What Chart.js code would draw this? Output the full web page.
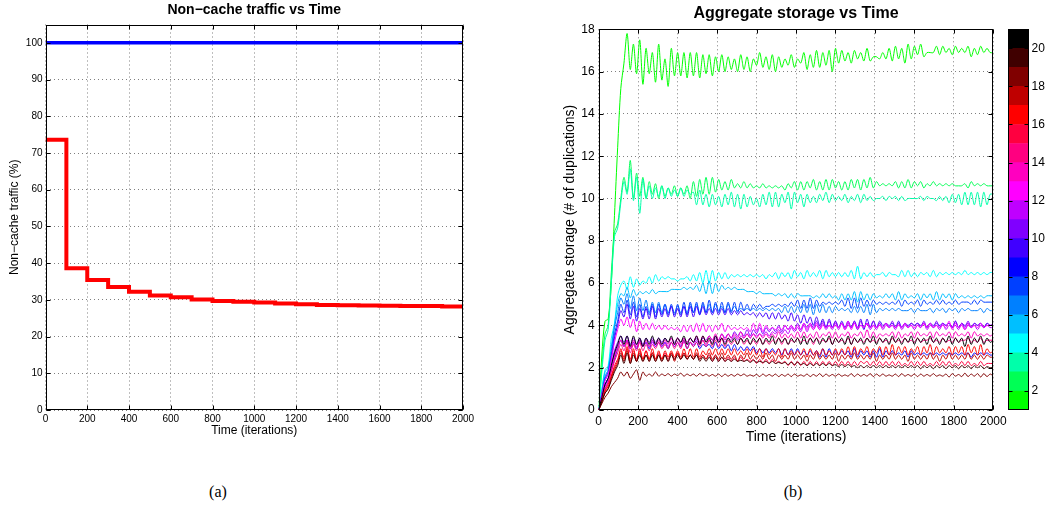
<!DOCTYPE html>
<html>
<head>
<meta charset="utf-8">
<title>Non-cache traffic and aggregate storage vs time</title>
<script src="https://cdn.jsdelivr.net/npm/chart.js@4.4.1/dist/chart.umd.min.js"></script>
<style>
  html, body { margin: 0; padding: 0; background: #fff; }
  body { width: 1046px; height: 509px; position: relative; overflow: hidden; }
  canvas { position: absolute; top: 0; display: block; }
  #trafficChart { left: 0; }
  #storageChart { left: 540px; }
  #colorbar { left: 1000px; }
  .caption { position: absolute; top: 482px; width: 100px; text-align: center;
             font: 16px 'Liberation Serif', 'Times New Roman', serif; line-height: 20px; }
</style>
</head>
<body>
<canvas id="trafficChart" width="480" height="450"></canvas>
<canvas id="storageChart" width="506" height="450"></canvas>
<canvas id="colorbar" width="46" height="450"></canvas>
<div class="caption" style="left:168px">(a)</div>
<div class="caption" style="left:743px">(b)</div>

<script>
// ---- (a) non-cache traffic ----
const stepTimes = [0, 100, 200, 300, 400, 500, 600, 700, 800, 900, 1000,
                   1100, 1200, 1300, 1400, 1500, 1600, 1700, 1800, 1900, 2000];
const cachedTraffic = [73.6, 38.6, 35.4, 33.5, 32.2, 31.2, 30.7, 30.1, 29.7, 29.5, 29.3,
                       29.0, 28.8, 28.6, 28.5, 28.45, 28.4, 28.35, 28.3, 28.2, 28.2];
const noCacheTraffic = [100, 100];
const noCacheTimes = [0, 2000];
const trafficTicks = [0, 10, 20, 30, 40, 50, 60, 70, 80, 90, 100];
const timeTicks = [0, 200, 400, 600, 800, 1000, 1200, 1400, 1600, 1800, 2000];

// ---- (b) aggregate storage, one series per color bin ----
const times = [0,16,32,48,64,80,96,112,128,144,160,176,192,208,224,240,256,272,288,304,320,336,352,368,384,
  400,416,432,448,464,480,496,512,528,544,560,576,592,608,624,640,656,672,688,704,720,736,752,768,784,
  800,816,832,848,864,880,896,912,928,944,960,976,992,1008,1024,1040,1056,1072,1088,1104,1120,1136,1152,1168,1184,
  1200,1216,1232,1248,1264,1280,1296,1312,1328,1344,1360,1376,1392,1408,1424,1440,1456,1472,1488,1504,1520,1536,1552,1568,1584,
  1600,1616,1632,1648,1664,1680,1696,1712,1728,1744,1760,1776,1792,1808,1824,1840,1856,1872,1888,1904,1920,1936,1952,1968,1984,2000];

const storage01 = [0,2.6,4.2,4.3,6.0,9.2,12.4,15.2,16.4,
  17.8,16.1,17.3,15.9,17.5,15.4,17.1,15.9,16.9,15.5,17.3,15.6,
  16.6,15.3,17.1,15.8,16.9,15.8,16.9,15.7,16.9,15.8,
  16.9,15.7,16.8,15.9,16.8,15.8,16.7,16.0,16.8,16.0,
  16.7,16.1,16.6,16.0,16.8,16.1,16.7,16.0,16.6,16.3,
  16.9,16.2,16.7,16.1,16.8,16.0,16.7,16.2,16.6,16.3,
  16.8,16.2,16.6,16.4,16.9,16.1,16.8,16.2,17.0,16.2,
  16.9,16.3,17.0,16.0,17.1,16.4,17.0,16.5,16.9,16.4,
  17.0,16.6,16.9,16.5,17.1,16.5,16.7,16.7,16.6,16.9,
  16.6,17.1,16.5,17.2,16.6,17.1,16.4,17.3,16.6,17.2,
  16.8,17.3,16.7,16.9,16.9,16.9,17.2,16.8,17.2,16.9,
  17.1,16.8,17.2,16.9,17.1,16.9,17.2,16.7,17.1,16.8,
  17.2,16.9,17.1,16.9,16.9];
const storage02 = [0,2.0,3.6,4.0,6.5,8.4,8.8,10.0,11.0,
  10.3,11.8,10.0,11.2,10.1,11.0,10.0,10.8,10.2,10.7,10.0,10.6,
  10.1,10.5,10.2,10.6,10.1,10.5,10.2,10.6,10.0,10.8,
  10.1,10.9,10.2,11.0,10.2,11.0,10.3,10.9,10.4,10.8,
  10.4,10.9,10.5,10.7,10.5,10.8,10.5,10.7,10.5,10.6,
  10.5,10.7,10.5,10.6,10.5,10.6,10.5,10.6,10.4,10.7,
  10.5,10.8,10.4,10.8,10.4,10.8,10.5,10.9,10.4,10.8,
  10.4,10.9,10.4,10.9,10.5,10.8,10.4,10.8,10.4,10.9,
  10.5,10.9,10.4,10.9,10.5,11.0,10.5,10.8,10.6,10.7,
  10.6,10.7,10.6,10.8,10.5,10.8,10.5,10.9,10.5,10.8,
  10.6,10.8,10.5,10.7,10.6,10.8,10.6,10.7,10.6,10.7,
  10.6,10.7,10.6,10.6,10.6,10.7,10.5,10.8,10.6,10.7,
  10.6,10.7,10.6,10.6,10.6];
const storage03 = [0,1.8,3.3,3.8,6.0,8.2,8.6,9.8,10.8,
  10.2,11.4,9.9,11.0,9.3,10.9,10.0,10.6,10.0,10.5,10.1,10.6,
  10.0,10.5,10.1,10.4,10.1,10.5,10.1,10.4,10.2,10.3,
  9.7,10.4,9.7,10.2,9.6,10.2,9.7,10.1,9.6,10.2,
  9.7,10.3,9.6,10.2,9.5,10.2,9.6,10.1,9.7,10.0,
  9.6,10.2,9.7,10.3,9.6,10.3,9.6,10.2,9.8,10.3,
  9.5,10.3,9.8,10.2,9.6,10.2,9.8,10.1,9.8,10.2,
  9.9,10.3,9.8,10.2,9.9,10.1,9.9,10.2,9.8,10.1,
  9.9,10.2,9.8,10.2,9.9,10.1,9.9,10.0,10.0,10.1,
  9.9,10.1,10.0,10.1,9.9,10.1,9.9,10.0,10.0,10.0,
  10.0,10.1,9.9,10.1,10.0,10.0,9.9,10.1,9.9,10.1,
  9.8,10.2,9.8,10.2,9.7,10.3,9.7,10.3,9.7,10.3,
  9.6,10.3,9.7,10.2,10.2];
const storage04 = [0,1.0,1.9,2.1,3.4,4.1,5.4,5.9,6.1,
  5.7,6.3,5.8,6.2,5.9,6.1,6.0,6.3,6.0,6.4,6.1,6.3,
  6.2,6.3,6.2,6.2,6.1,6.2,6.2,6.3,6.1,6.4,
  6.1,6.5,6.0,6.6,6.0,6.6,6.1,6.5,6.2,6.5,
  6.2,6.4,6.3,6.4,6.3,6.4,6.3,6.4,6.3,6.4,
  6.3,6.4,6.2,6.4,6.3,6.5,6.2,6.5,6.3,6.5,
  6.2,6.6,6.3,6.5,6.2,6.6,6.3,6.5,6.3,6.6,
  6.2,6.6,6.3,6.5,6.3,6.5,6.3,6.5,6.3,6.6,
  6.2,6.8,6.2,6.5,6.3,6.5,6.3,6.4,6.4,6.5,
  6.3,6.5,6.4,6.4,6.3,6.6,6.3,6.6,6.3,6.5,
  6.3,6.5,6.4,6.5,6.3,6.6,6.3,6.5,6.4,6.5,
  6.4,6.5,6.4,6.5,6.4,6.6,6.4,6.5,6.4,6.5,
  6.4,6.5,6.4,6.5,6.5];
const storage05 = [0,0.9,1.8,2.0,3.0,4.0,5.0,5.5,5.4,
  5.8,5.3,5.7,5.4,5.6,5.5,5.6,5.5,5.7,5.5,5.6,5.6,
  5.6,5.6,5.7,5.7,5.7,5.7,5.8,5.7,5.8,5.7,
  5.9,5.6,6.0,5.5,6.1,5.5,6.0,5.6,5.9,5.7,
  5.8,5.7,5.8,5.7,5.7,5.7,5.6,5.6,5.6,5.5,
  5.6,5.5,5.5,5.5,5.5,5.4,5.5,5.4,5.5,5.3,
  5.5,5.3,5.5,5.4,5.4,5.4,5.4,5.3,5.4,5.3,
  5.5,5.3,5.5,5.3,5.4,5.2,5.5,5.2,5.5,5.2,
  5.6,5.1,5.6,5.2,5.5,5.2,5.5,5.3,5.4,5.3,
  5.5,5.3,5.5,5.2,5.6,5.2,5.5,5.3,5.4,5.3,
  5.5,5.2,5.5,5.3,5.5,5.2,5.6,5.2,5.5,5.3,
  5.5,5.2,5.5,5.3,5.4,5.3,5.4,5.3,5.4,5.3,
  5.4,5.3,5.4,5.4,5.4];
const storage06 = [0,0.8,1.6,1.9,2.8,3.9,4.6,5.3,5.0,
  5.5,4.8,5.4,4.7,5.3,4.7,5.2,4.6,5.1,4.6,5.1,4.6,
  5.0,4.6,4.9,4.6,4.9,4.6,4.9,4.6,5.0,4.6,
  5.0,4.6,5.0,4.6,5.0,4.6,5.0,4.7,4.9,4.6,
  5.0,4.7,4.9,4.7,4.8,4.7,4.8,4.7,4.8,4.7,
  4.8,4.7,4.8,4.7,4.8,4.7,4.8,4.6,4.9,4.6,
  4.9,4.6,4.9,4.6,5.0,4.6,5.0,4.5,5.0,4.6,
  5.0,4.6,4.9,4.6,4.9,4.7,4.8,4.7,4.8,4.6,
  4.9,4.6,4.9,4.6,5.0,4.5,5.0,4.6,4.8,4.7,
  4.8,4.7,4.8,4.7,4.8,4.7,4.7,4.7,4.8,4.6,
  4.8,4.7,4.7,4.7,4.8,4.6,4.8,4.7,4.8,4.6,
  4.8,4.7,4.8,4.6,4.8,4.7,4.8,4.7,4.7,4.7,
  4.8,4.6,4.8,4.7,4.7];
const storage07 = [0,0.7,1.5,1.8,2.6,3.6,4.2,5.0,4.6,
  5.2,4.5,5.1,4.4,5.0,4.4,4.9,4.5,5.0,4.4,5.0,4.5,
  5.0,4.5,5.0,4.5,5.0,4.5,5.1,4.5,5.1,4.6,
  5.1,4.5,5.1,4.6,5.2,4.6,5.1,4.6,5.1,4.6,
  5.1,4.6,5.1,4.6,5.1,4.7,5.0,4.7,5.0,4.8,
  5.0,4.8,4.9,4.9,5.0,4.9,5.0,4.9,5.0,4.9,
  5.1,4.9,5.2,4.8,5.2,4.8,5.3,4.8,5.2,4.9,
  5.1,5.0,5.1,5.0,5.1,5.0,5.2,4.9,5.3,4.8,
  5.3,4.8,5.3,4.9,5.2,4.9,5.2,5.0,5.1,5.0,
  5.1,5.0,5.1,5.0,5.2,4.9,5.2,5.0,5.1,5.0,
  5.2,4.9,5.2,5.0,5.1,5.0,5.2,5.0,5.2,5.0,
  5.1,5.0,5.2,5.0,5.1,5.1,5.1,5.0,5.2,5.0,
  5.2,5.1,5.1,5.1,5.1];
const storage08 = [0,0.6,1.2,1.5,1.9,2.4,2.9,3.3,3.0,
  3.3,2.9,3.2,2.9,3.3,3.0,3.2,2.9,3.3,3.0,3.2,3.0,
  3.2,2.9,3.2,3.0,3.2,3.0,3.3,2.9,3.2,3.0,
  3.2,2.9,3.1,3.0,3.1,2.9,3.2,2.9,3.1,2.9,
  3.1,2.8,3.1,2.8,3.0,2.8,3.0,2.8,3.0,2.7,
  2.9,2.7,2.9,2.7,2.9,2.7,2.9,2.6,2.9,2.6,
  2.9,2.6,2.9,2.6,2.8,2.6,2.8,2.6,2.8,2.5,
  2.9,2.5,2.9,2.6,2.8,2.6,2.8,2.6,2.8,2.5,
  2.9,2.5,2.8,2.6,2.8,2.5,2.8,2.5,2.9,2.5,
  2.8,2.6,2.8,2.6,2.7,2.6,2.8,2.5,2.8,2.6,
  2.7,2.6,2.7,2.6,2.7,2.6,2.7,2.6,2.7,2.6,
  2.7,2.6,2.7,2.6,2.7,2.6,2.7,2.5,2.7,2.6,
  2.7,2.6,2.7,2.6,2.6];
const storage09 = [0,0.7,1.4,1.7,2.4,3.4,4.0,4.7,4.4,
  5.0,4.3,4.9,4.2,4.8,4.3,4.8,4.3,4.9,4.3,4.8,4.4,
  4.8,4.4,4.9,4.4,4.8,4.4,4.9,4.4,4.9,4.4,
  4.9,4.5,4.9,4.5,4.8,4.5,4.8,4.5,4.8,4.5,
  4.8,4.5,4.7,4.5,4.7,4.5,4.6,4.5,4.6,4.4,
  4.6,4.4,4.6,4.3,4.6,4.3,4.6,4.3,4.5,4.2,
  4.6,4.2,4.5,4.1,4.5,4.1,4.4,4.0,4.4,4.0,
  4.3,3.9,4.3,3.9,4.2,3.9,4.2,3.9,4.2,3.9,
  4.2,3.9,4.3,3.8,4.3,3.9,4.2,3.9,4.2,4.0,
  4.1,4.0,4.1,3.9,4.2,3.9,4.1,4.0,4.1,4.0,
  4.1,4.0,4.1,3.9,4.1,4.0,4.1,4.0,4.1,4.0,
  4.1,3.9,4.2,3.9,4.1,4.0,4.1,3.9,4.1,4.0,
  4.1,3.9,4.1,4.0,4.0];
const storage10 = [0,0.6,1.2,1.5,2.1,2.8,3.2,3.5,3.2,
  3.5,3.1,3.4,3.1,3.4,3.1,3.4,3.2,3.4,3.2,3.4,3.2,
  3.4,3.2,3.4,3.2,3.4,3.2,3.4,3.2,3.4,3.2,
  3.4,3.2,3.4,3.3,3.5,3.3,3.5,3.3,3.6,3.4,
  3.6,3.4,3.7,3.5,3.7,3.5,3.8,3.5,3.8,3.6,
  3.9,3.6,3.9,3.7,3.9,3.7,4.0,3.7,4.0,3.8,
  4.0,3.8,4.1,3.8,4.1,3.9,4.1,3.9,4.2,3.9,
  4.2,3.9,4.2,3.9,4.2,3.9,4.1,3.9,4.1,3.9,
  4.2,3.8,4.2,3.9,4.1,3.9,4.2,3.9,4.1,3.9,
  4.1,3.9,4.2,3.9,4.1,3.9,4.1,3.9,4.1,4.0,
  4.1,3.9,4.2,3.9,4.1,3.9,4.2,3.9,4.1,4.0,
  4.1,3.9,4.2,3.9,4.1,3.9,4.2,3.9,4.1,4.0,
  4.1,3.9,4.1,4.0,4.1];
const storage11 = [0,0.5,1.1,1.4,2.0,2.6,3.0,3.3,3.0,
  3.3,2.9,3.2,2.9,3.2,3.0,3.2,3.0,3.2,3.0,3.2,3.0,
  3.2,3.0,3.2,3.0,3.2,3.0,3.2,3.1,3.2,3.1,
  3.3,3.1,3.3,3.1,3.3,3.2,3.4,3.2,3.4,3.2,
  3.4,3.3,3.5,3.3,3.5,3.4,3.6,3.4,3.6,3.5,
  3.6,3.5,3.7,3.5,3.7,3.6,3.8,3.6,3.8,3.6,
  3.9,3.7,3.9,3.7,4.0,3.7,4.0,3.8,4.0,3.8,
  4.1,3.8,4.0,3.8,4.1,3.8,4.1,3.8,4.0,3.9,
  4.1,3.8,4.0,3.9,4.1,3.8,4.0,3.8,4.1,3.8,
  4.0,3.9,4.0,3.8,4.1,3.8,4.0,3.9,4.0,3.8,
  4.0,3.9,4.1,3.8,4.0,3.9,4.0,3.8,4.1,3.8,
  4.0,3.9,4.0,3.8,4.1,3.8,4.0,3.9,4.0,3.8,
  4.0,3.9,4.0,3.9,3.9];
const storage12 = [0,0.7,1.4,1.7,2.4,3.2,3.8,4.3,4.0,
  4.4,3.9,4.3,3.7,4.2,3.8,4.1,3.8,4.1,3.8,4.0,3.8,
  4.0,3.8,3.9,3.8,3.9,3.7,4.0,3.7,4.0,3.7,
  4.1,3.7,4.1,3.7,4.0,3.7,4.0,3.8,4.1,3.7,
  4.0,3.8,3.9,3.8,3.9,3.8,3.9,3.7,4.1,3.7,
  4.1,3.7,4.0,3.8,3.9,3.8,3.9,3.8,4.0,3.8,
  4.0,3.8,4.0,3.8,4.1,3.8,4.1,3.8,4.1,3.8,
  4.0,3.9,4.0,3.9,4.0,3.9,4.1,3.8,4.2,3.8,
  4.1,3.9,4.0,3.9,4.1,3.9,4.0,3.9,4.0,3.9,
  4.1,3.9,4.0,3.9,4.0,3.9,4.1,3.9,4.0,3.9,
  4.0,3.9,4.1,3.9,4.1,3.9,4.0,3.9,4.0,3.9,
  4.2,3.8,4.1,3.9,4.0,3.8,4.1,3.9,4.0,3.9,
  4.1,3.9,4.0,4.0,4.0];
const storage13 = [0,0.5,1.0,1.3,1.9,2.5,2.9,3.3,3.0,
  3.3,2.9,3.3,3.0,3.3,3.0,3.3,3.0,3.3,3.1,3.3,3.1,
  3.3,3.1,3.4,3.1,3.4,3.1,3.4,3.2,3.4,3.2,
  3.5,3.2,3.5,3.2,3.5,3.3,3.6,3.3,3.6,3.3,
  3.6,3.4,3.6,3.4,3.7,3.4,3.6,3.4,3.6,3.4,
  3.6,3.4,3.6,3.4,3.6,3.4,3.7,3.4,3.6,3.4,
  3.6,3.4,3.7,3.4,3.7,3.4,3.6,3.4,3.7,3.4,
  3.6,3.5,3.7,3.4,3.7,3.4,3.6,3.5,3.7,3.4,
  3.6,3.5,3.7,3.4,3.8,3.4,3.7,3.4,3.6,3.5,
  3.6,3.5,3.7,3.4,3.7,3.4,3.6,3.5,3.7,3.4,
  3.7,3.5,3.6,3.5,3.7,3.4,3.7,3.5,3.6,3.5,
  3.7,3.4,3.7,3.5,3.6,3.5,3.7,3.4,3.7,3.5,
  3.6,3.5,3.6,3.5,3.6];
const storage14 = [0,0.5,1.0,1.3,1.8,2.3,2.7,3.1,2.8,
  3.2,2.7,3.1,2.8,3.2,2.8,3.1,2.8,3.1,2.9,3.2,2.9,
  3.1,2.9,3.2,2.9,3.2,2.9,3.3,2.9,3.2,3.0,
  3.2,3.0,3.3,3.0,3.3,3.0,3.3,3.0,3.4,3.0,
  3.3,3.1,3.3,3.1,3.4,3.1,3.3,3.1,3.3,3.1,
  3.4,3.1,3.3,3.1,3.3,3.2,3.4,3.1,3.4,3.1,
  3.3,3.2,3.4,3.2,3.3,3.2,3.4,3.1,3.4,3.2,
  3.3,3.2,3.4,3.1,3.4,3.2,3.3,3.2,3.4,3.1,
  3.4,3.2,3.3,3.2,3.4,3.2,3.3,3.2,3.4,3.2,
  3.3,3.2,3.4,3.2,3.3,3.2,3.4,3.2,3.3,3.2,
  3.4,3.2,3.3,3.3,3.4,3.2,3.3,3.2,3.4,3.2,
  3.3,3.2,3.4,3.2,3.3,3.3,3.4,3.2,3.3,3.2,
  3.4,3.2,3.3,3.3,3.3];
const storage15 = [0,0.4,0.9,1.2,1.6,2.1,2.4,2.8,2.5,
  2.9,2.4,2.8,2.4,2.8,2.4,2.8,2.4,2.7,2.4,2.7,2.4,
  2.7,2.4,2.7,2.4,2.7,2.4,2.7,2.4,2.6,2.4,
  2.6,2.4,2.6,2.4,2.6,2.3,2.6,2.3,2.5,2.3,
  2.5,2.3,2.5,2.3,2.5,2.3,2.4,2.3,2.4,2.2,
  2.4,2.2,2.4,2.2,2.4,2.2,2.3,2.2,2.3,2.1,
  2.3,2.1,2.3,2.1,2.3,2.1,2.3,2.1,2.3,2.1,
  2.3,2.1,2.3,2.1,2.3,2.1,2.3,2.1,2.3,2.1,
  2.3,2.1,2.3,2.2,2.3,2.1,2.3,2.1,2.3,2.1,
  2.3,2.1,2.3,2.1,2.3,2.1,2.2,2.1,2.3,2.1,
  2.3,2.1,2.3,2.1,2.2,2.1,2.3,2.1,2.3,2.1,
  2.3,2.1,2.2,2.1,2.3,2.1,2.3,2.1,2.2,2.1,
  2.3,2.1,2.2,2.2,2.2];
const storage16 = [0,0.4,0.9,1.1,1.6,2.0,2.3,2.9,2.4,
  3.0,2.3,2.9,2.3,2.9,2.4,2.8,2.4,2.9,2.4,2.8,2.4,
  2.8,2.5,2.8,2.5,2.8,2.5,2.9,2.5,2.9,2.5,
  2.9,2.5,2.8,2.6,2.9,2.6,2.9,2.6,2.9,2.6,
  2.9,2.6,2.9,2.6,2.8,2.6,2.9,2.6,2.9,2.6,
  2.9,2.5,2.9,2.6,2.8,2.6,2.9,2.5,2.9,2.6,
  2.8,2.6,2.8,2.6,2.9,2.5,2.9,2.6,2.8,2.6,
  2.9,2.6,2.8,2.6,2.9,2.6,2.9,2.6,3.0,2.6,
  3.0,2.6,2.9,2.7,3.0,2.6,2.9,2.7,3.0,2.6,
  3.0,2.6,3.1,2.6,3.0,2.7,3.0,2.6,2.9,2.7,
  3.0,2.6,3.0,2.7,3.1,2.6,3.0,2.7,2.9,2.7,
  3.0,2.6,3.0,2.7,3.0,2.6,3.1,2.7,3.0,2.6,
  3.1,2.6,2.9,2.7,2.8];
const storage17 = [0,0.4,0.8,1.0,1.5,1.9,2.2,2.7,2.3,
  2.8,2.2,2.7,2.3,2.7,2.3,2.6,2.3,2.7,2.3,2.6,2.3,
  2.6,2.3,2.7,2.3,2.7,2.4,2.7,2.4,2.6,2.4,
  2.7,2.4,2.6,2.4,2.7,2.4,2.6,2.4,2.7,2.4,
  2.6,2.4,2.6,2.3,2.6,2.4,2.7,2.4,2.6,2.4,
  2.6,2.4,2.7,2.4,2.6,2.3,2.6,2.4,2.6,2.4,
  2.7,2.4,2.6,2.4,2.6,2.3,2.6,2.4,2.7,2.4,
  2.6,2.4,2.6,2.4,2.7,2.3,2.6,2.4,2.6,2.4,
  2.7,2.4,2.6,2.4,2.6,2.4,2.7,2.3,2.6,2.4,
  2.6,2.4,2.7,2.4,2.6,2.4,2.6,2.3,2.7,2.4,
  2.6,2.4,2.6,2.4,2.7,2.4,2.6,2.3,2.6,2.4,
  2.7,2.4,2.6,2.4,2.6,2.4,2.7,2.4,2.6,2.4,
  2.6,2.4,2.6,2.5,2.5];
const storage18 = [0,0.3,0.6,0.8,1.1,1.3,1.5,1.8,1.6,
  1.8,1.5,1.7,1.9,1.4,1.8,1.6,1.7,1.6,1.8,1.6,1.7,
  1.62,1.72,1.6,1.7,1.63,1.74,1.6,1.7,1.62,1.7,
  1.6,1.72,1.62,1.7,1.6,1.68,1.6,1.7,1.58,1.7,
  1.6,1.68,1.6,1.7,1.62,1.7,1.6,1.66,1.6,1.68,
  1.58,1.7,1.6,1.68,1.6,1.7,1.58,1.68,1.6,1.7,
  1.58,1.7,1.6,1.66,1.6,1.7,1.58,1.68,1.6,1.72,
  1.58,1.7,1.6,1.68,1.6,1.7,1.6,1.66,1.6,1.72,
  1.58,1.7,1.6,1.68,1.6,1.72,1.58,1.7,1.6,1.7,
  1.6,1.66,1.6,1.7,1.58,1.72,1.6,1.68,1.6,1.7,
  1.58,1.7,1.6,1.68,1.6,1.72,1.6,1.66,1.6,1.7,
  1.56,1.72,1.6,1.68,1.58,1.74,1.58,1.7,1.6,1.72,
  1.56,1.72,1.58,1.7,1.6];
const storage19 = [0,0.4,0.8,1.0,1.4,1.8,2.1,2.6,2.2,
  2.7,2.2,2.6,2.3,2.6,2.3,2.6,2.3,2.6,2.3,2.6,2.3,
  2.6,2.3,2.6,2.4,2.6,2.4,2.6,2.4,2.6,2.4,
  2.6,2.3,2.5,2.3,2.5,2.3,2.5,2.3,2.5,2.3,
  2.4,2.3,2.4,2.3,2.35,2.3,2.35,2.25,2.35,2.25,
  2.3,2.25,2.3,2.2,2.3,2.2,2.25,2.2,2.25,2.15,
  2.25,2.15,2.25,2.15,2.2,2.1,2.2,2.1,2.2,2.1,
  2.2,2.1,2.2,2.1,2.15,2.05,2.15,2.05,2.15,2.05,
  2.1,2.0,2.1,2.0,2.1,2.0,2.1,2.0,2.1,2.0,
  2.1,2.0,2.1,2.0,2.1,2.0,2.1,2.0,2.1,2.0,
  2.1,1.95,2.1,2.0,2.1,1.95,2.1,2.0,2.1,1.95,
  2.1,2.0,2.1,1.95,2.1,2.0,2.1,1.95,2.1,2.0,
  2.1,1.95,2.05,2.0,2.0];
const storage20 = [0,0.6,1.2,1.5,2.1,2.7,3.1,3.5,3.1,
  3.5,3.0,3.5,3.1,3.4,3.0,3.4,3.1,3.5,3.1,3.4,3.1,
  3.4,3.2,3.5,3.1,3.4,3.2,3.5,3.1,3.4,3.2,
  3.5,3.1,3.5,3.2,3.4,3.1,3.5,3.2,3.4,3.1,
  3.4,3.2,3.4,3.1,3.4,3.2,3.4,3.1,3.4,3.2,
  3.4,3.1,3.4,3.2,3.5,3.1,3.4,3.2,3.4,3.1,
  3.4,3.2,3.4,3.1,3.5,3.1,3.4,3.2,3.4,3.1,
  3.4,3.2,3.5,3.1,3.4,3.2,3.4,3.1,3.5,3.1,
  3.4,3.2,3.4,3.1,3.4,3.2,3.5,3.1,3.4,3.2,
  3.4,3.1,3.5,3.2,3.4,3.1,3.4,3.2,3.5,3.1,
  3.4,3.2,3.4,3.1,3.5,3.2,3.4,3.1,3.4,3.2,
  3.5,3.1,3.4,3.2,3.4,3.0,3.5,3.1,3.4,3.2,
  3.5,3.1,3.4,3.2,3.3];

const storageSeries = [storage01, storage02, storage03, storage04, storage05, storage06, storage07,
  storage08, storage09, storage10, storage11, storage12, storage13, storage14, storage15,
  storage16, storage17, storage18, storage19, storage20];
const seriesIds = [1, 2, 3, 4, 5, 6, 7, 8, 9, 10, 11, 12, 13, 14, 15, 16, 17, 18, 19, 20];
const seriesColors = ['#00ff00', '#00ff55', '#00ffaa', '#00ffff', '#00bfff', '#0080ff', '#0040ff',
  '#0000ff', '#4000ff', '#8000ff', '#bf00ff', '#ff00ff', '#ff00bf', '#ff0080', '#ff0040',
  '#ff0000', '#bf0000', '#800000', '#400000', '#000000'];
const storageTicks = [0, 2, 4, 6, 8, 10, 12, 14, 16, 18];
const colorbarTicks = [2, 4, 6, 8, 10, 12, 14, 16, 18, 20];

Chart.defaults.font.family = "'Liberation Sans', Arial, Helvetica, sans-serif";
Chart.defaults.color = '#000';

// box around the plot area plus inward ticks, matlab style
const frameTicks = {
  id: 'frameTicks',
  afterDraw(chart, args, opts) {
    const {ctx, chartArea: a} = chart;
    const len = opts.len || 4;
    const l = Math.round(a.left) + 0.5, r = Math.round(a.right) - 0.5;
    const t = Math.round(a.top) + 0.5, b = Math.round(a.bottom) - 0.5;
    ctx.save();
    ctx.strokeStyle = '#000';
    ctx.lineWidth = 1;
    ctx.beginPath();
    if (opts.xTicks !== false) {
      chart.scales.x.ticks.forEach(tk => {
        const px = Math.round(chart.scales.x.getPixelForValue(tk.value)) + 0.5;
        ctx.moveTo(px, b); ctx.lineTo(px, b - len);
        ctx.moveTo(px, t); ctx.lineTo(px, t + len);
      });
    }
    chart.scales.y.ticks.forEach(tk => {
      const py = Math.round(chart.scales.y.getPixelForValue(tk.value)) + 0.5;
      ctx.moveTo(l, py); ctx.lineTo(l + len, py);
      ctx.moveTo(r, py); ctx.lineTo(r - len, py);
    });
    ctx.stroke();
    ctx.strokeRect(l, t, r - l, b - t);
    ctx.restore();
  }
};

function fixedTicks(values) {
  return scale => { scale.ticks = values.map(v => ({value: v})); };
}

function dottedGrid() {
  return {color: 'rgba(0,0,0,0.5)', lineWidth: 1, drawTicks: false};
}

// (a)
new Chart(document.getElementById('trafficChart'), {
  type: 'line',
  data: {
    datasets: [{
      data: noCacheTimes.map((x, i) => ({x: x, y: noCacheTraffic[i]})),
      borderColor: '#0000ff',
      borderWidth: 3.5,
      pointRadius: 0
    }, {
      data: stepTimes.map((x, i) => ({x: x, y: cachedTraffic[i]})),
      borderColor: '#ff0000',
      borderWidth: 4,
      pointRadius: 0,
      stepped: true
    }]
  },
  options: {
    responsive: false,
    animation: false,
    layout: {padding: {left: 0, right: 17, top: 0, bottom: 0}},
    plugins: {
      legend: {display: false},
      tooltip: {enabled: false},
      title: {display: true, text: 'Non\u2212cache traffic vs Time', fullSize: false,
              font: {size: 14, weight: 'bold'}, padding: {top: 1.6, bottom: 6.1}},
      frameTicks: {len: 4}
    },
    scales: {
      x: {
        type: 'linear', min: 0, max: 2000,
        afterBuildTicks: fixedTicks(timeTicks),
        afterFit: s => { s.height = 40; },
        grid: dottedGrid(),
        border: {display: false, dash: [1, 3]},
        ticks: {padding: 3, font: {size: 10}, maxRotation: 0, callback: v => String(v)},
        title: {display: true, text: 'Time (iterations)', font: {size: 12}, padding: {top: 0, bottom: 12}}
      },
      y: {
        type: 'linear', min: 0, max: 105,
        afterBuildTicks: fixedTicks(trafficTicks),
        afterFit: s => { s.width = 45.5; },
        grid: dottedGrid(),
        border: {display: false, dash: [1, 3]},
        ticks: {padding: 3, font: {size: 10}, callback: v => String(v)},
        title: {display: true, text: 'Non\u2212cache traffic (%)', font: {size: 12}, padding: {top: 7.8, bottom: 0}}
      }
    }
  },
  plugins: [frameTicks]
});

// (b)
new Chart(document.getElementById('storageChart'), {
  type: 'line',
  data: {
    datasets: storageSeries.map((vals, k) => ({
      data: times.map((x, i) => ({x: x, y: vals[i]})),
      borderColor: seriesColors[k],
      borderWidth: 1,
      pointRadius: 0,
      tension: 0.3,
      order: 21 - seriesIds[k]
    }))
  },
  options: {
    responsive: false,
    animation: false,
    layout: {padding: {left: 0, right: 52.7, top: 0, bottom: 0}},
    plugins: {
      legend: {display: false},
      tooltip: {enabled: false},
      title: {display: true, text: 'Aggregate storage vs Time', fullSize: false,
              font: {size: 16, weight: 'bold'}, padding: {top: 3.7, bottom: 6.4}},
      frameTicks: {len: 4}
    },
    scales: {
      x: {
        type: 'linear', min: 0, max: 2000,
        afterBuildTicks: fixedTicks(timeTicks),
        afterFit: s => { s.height = 40; },
        grid: dottedGrid(),
        border: {display: false, dash: [1, 3]},
        ticks: {padding: 4, font: {size: 12}, maxRotation: 0, callback: v => String(v)},
        title: {display: true, text: 'Time (iterations)', font: {size: 14}, padding: {top: 0, bottom: 4.3}}
      },
      y: {
        type: 'linear', min: 0, max: 18,
        afterBuildTicks: fixedTicks(storageTicks),
        afterFit: s => { s.width = 58.7; },
        grid: dottedGrid(),
        border: {display: false, dash: [1, 3]},
        ticks: {padding: 4, font: {size: 12}, callback: v => String(v)},
        title: {display: true, text: 'Aggregate storage (# of duplications)', font: {size: 14}, padding: {top: 21.6, bottom: 0}}
      }
    }
  },
  plugins: [frameTicks]
});

// colorbar for (b): one floating bar per series id
new Chart(document.getElementById('colorbar'), {
  type: 'bar',
  data: {
    labels: [''],
    datasets: seriesIds.map((id, k) => ({
      data: [[id, id + 1]],
      backgroundColor: seriesColors[k],
      borderWidth: 0,
      barPercentage: 1,
      categoryPercentage: 1,
      grouped: false
    }))
  },
  options: {
    responsive: false,
    animation: false,
    layout: {padding: {left: 8.3, right: 0, top: 29.3, bottom: 40}},
    plugins: {
      legend: {display: false},
      tooltip: {enabled: false},
      frameTicks: {len: 4, xTicks: false}
    },
    scales: {
      x: {display: false},
      y: {
        position: 'right', min: 1, max: 21,
        afterBuildTicks: fixedTicks(colorbarTicks),
        afterFit: s => { s.width = 17.4; },
        grid: {display: false, drawTicks: false},
        border: {display: false},
        ticks: {padding: 3, font: {size: 12}, callback: v => String(v)}
      }
    }
  },
  plugins: [frameTicks]
});
</script>
</body>
</html>
